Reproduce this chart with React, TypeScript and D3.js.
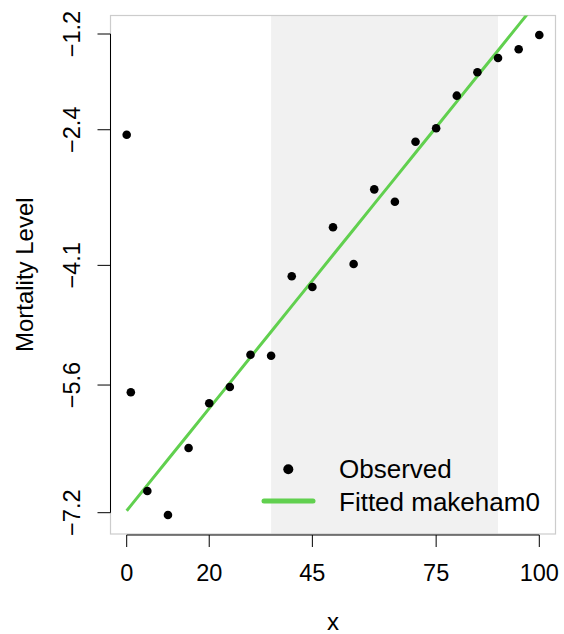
import React from "react";
import * as d3 from "d3";

const ages = [0, 1, 5, 10, 15, 20, 25, 30, 35, 40, 45, 50, 55, 60, 65, 70, 75, 80, 85, 90, 95, 100];
const observed = [-2.462, -5.691, -6.928, -7.229, -6.389, -5.829, -5.625, -5.221, -5.232, -4.237, -4.371, -3.623, -4.083, -3.147, -3.302, -2.55, -2.382, -1.973, -1.68, -1.501, -1.392, -1.213];
const fitted = [-7.175, -7.111, -6.855, -6.534, -6.214, -5.893, -5.573, -5.252, -4.932, -4.611, -4.291, -3.97, -3.65, -3.329, -3.009, -2.688, -2.368, -2.047, -1.727, -1.406, -1.086, -0.765];
const xTicks = [0, 20, 45, 75, 100];
const yTicks = [-7.2, -5.6, -4.1, -2.4, -1.2];
const shadedRange = [35, 90];
const legendLabels = ["Observed", "Fitted makeham0"];

const W = 564;
const H = 634;
const plotL = 110.5, plotR = 555.5, plotT = 15.5, plotB = 534;
const FONT = "'Liberation Sans', Arial, Helvetica, sans-serif";
const GREEN = "#61D04F";

export default function App() {
  const x = d3.scaleLinear().domain([0, 100]).range([126.7, 539.3]);
  const y = d3.scaleLinear().domain([-7.2, -1.2]).range([512.7, 34]);
  const line = d3
    .line<number>()
    .x((_, i) => x(ages[i]))
    .y((d) => y(d));
  const fmt = (v: number) => (v < 0 ? "\u2212" + Math.abs(v).toFixed(1) : String(v));
  const axisY = 535;
  return (
    <svg
      width={W}
      height={H}
      style={{ position: "absolute", left: 0, top: 0, background: "#fff" }}
      fontFamily={FONT}
    >
      <defs>
        <clipPath id="plotclip">
          <rect x={plotL} y={plotT} width={plotR - plotL} height={plotB - plotT} />
        </clipPath>
      </defs>
      <rect
        x={x(shadedRange[0])}
        y={plotT}
        width={x(shadedRange[1]) - x(shadedRange[0])}
        height={plotB - plotT}
        fill="#f1f1f1"
      />
      <rect
        x={plotL}
        y={plotT}
        width={plotR - plotL}
        height={plotB - plotT}
        fill="none"
        stroke="#cccccc"
        strokeWidth={1.2}
      />
      {/* x axis */}
      <line x1={x(xTicks[0])} x2={x(xTicks[xTicks.length - 1])} y1={axisY} y2={axisY} stroke="#000" strokeWidth={1} />
      {xTicks.map((t) => (
        <g key={"xt" + t}>
          <line x1={x(t)} x2={x(t)} y1={axisY} y2={axisY + 12} stroke="#000" strokeWidth={1} />
          <text x={x(t)} y={580.5} textAnchor="middle" fontSize={23.5}>
            {t}
          </text>
        </g>
      ))}
      {/* y axis */}
      <line x1={plotL} x2={plotL} y1={y(yTicks[0])} y2={y(yTicks[yTicks.length - 1])} stroke="#000" strokeWidth={1} />
      {yTicks.map((t) => (
        <g key={"yt" + t}>
          <line x1={plotL} x2={plotL - 13} y1={y(t)} y2={y(t)} stroke="#000" strokeWidth={1} />
          <text
            transform={`translate(80,${y(t)}) rotate(-90)`}
            textAnchor="middle"
            fontSize={23.5}
          >
            {fmt(t)}
          </text>
        </g>
      ))}
      <text x={x(50)} y={629.5} textAnchor="middle" fontSize={24}>
        x
      </text>
      <text
        transform={`translate(32.5,${(plotT + plotB) / 2}) rotate(-90)`}
        textAnchor="middle"
        fontSize={24}
      >
        Mortality Level
      </text>
      {/* fitted line */}
      <g clipPath="url(#plotclip)">
        <path d={line(fitted) || ""} fill="none" stroke={GREEN} strokeWidth={3} />
      </g>
      {/* points */}
      {observed.map((v, i) => (
        <circle key={"p" + i} cx={x(ages[i])} cy={y(v)} r={4.3} fill="#000" />
      ))}
      {/* legend */}
      <circle cx={288.3} cy={469.3} r={5} fill="#000" />
      <text x={339} y={477.5} fontSize={26}>
        {legendLabels[0]}
      </text>
      <line x1={264} x2={313} y1={501} y2={501} stroke={GREEN} strokeWidth={5} strokeLinecap="round" />
      <text x={339} y={510.5} fontSize={26}>
        {legendLabels[1]}
      </text>
    </svg>
  );
}
